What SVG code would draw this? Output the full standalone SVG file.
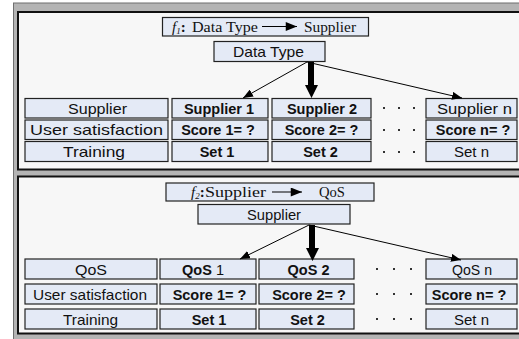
<svg xmlns="http://www.w3.org/2000/svg" width="519" height="339" viewBox="0 0 519 339">
<defs>
<marker id="ah" viewBox="0 0 10 8" refX="10" refY="4" markerWidth="10" markerHeight="8" markerUnits="userSpaceOnUse" orient="auto">
<path d="M0,0 L10,4 L0,8 Z" fill="#000"/>
</marker>
<marker id="ahs" viewBox="0 0 10 8" refX="10" refY="4" markerWidth="12" markerHeight="9" markerUnits="userSpaceOnUse" orient="auto">
<path d="M0,0 L10,4 L0,8 Z" fill="#000"/>
</marker>
</defs>
<style>
.bx{fill:#e4eaf6;stroke:#222;stroke-width:1.2}
.t{font-family:"Liberation Sans",Arial,sans-serif;font-size:15px;fill:#111}
.b{font-family:"Liberation Sans",Arial,sans-serif;font-size:14.5px;font-weight:bold;fill:#111;text-anchor:middle}
.s{font-family:"Liberation Serif","Times New Roman",serif;font-size:15px;fill:#111}
.dot{fill:#333}
.ln{stroke:#000;stroke-width:1;fill:none}
</style>
<rect x="13.5" y="3" width="520" height="340" fill="#b4b4b4" stroke="#6f6f6f" stroke-width="1"/>
<rect x="18" y="12" width="520" height="157.5" fill="#f7f7f7" stroke="#111" stroke-width="2"/>
<rect x="18" y="176.5" width="520" height="157" fill="#f7f7f7" stroke="#111" stroke-width="2"/>

<g id="f1">
<rect class="bx" x="162.5" y="17.5" width="206" height="18.5"/>
<text class="s" x="172" y="31.5"><tspan font-style="italic">f</tspan><tspan font-style="italic" font-size="9px" dy="2">1</tspan><tspan dy="-2" font-weight="bold">:</tspan></text>
<text class="s" x="192" y="31.5" textLength="66" lengthAdjust="spacingAndGlyphs">Data Type</text>
<text class="s" x="304" y="31.5" textLength="52" lengthAdjust="spacingAndGlyphs">Supplier</text>
</g>
<g id="dataType">
<rect class="bx" x="214" y="41.5" width="111" height="20"/>
<text class="t" x="233" y="56.5" textLength="71" lengthAdjust="spacingAndGlyphs">Data Type</text>
</g>

<g id="top-labels">
<rect class="bx" x="25" y="98.5" width="143" height="19.5"/>
<text class="t" x="68" y="113.5" textLength="59" lengthAdjust="spacingAndGlyphs">Supplier</text>
<rect class="bx" x="25" y="120" width="143" height="19.5"/>
<text class="t" x="30" y="135" textLength="133" lengthAdjust="spacingAndGlyphs">User satisfaction</text>
<rect class="bx" x="25" y="141.5" width="143" height="20"/>
<text class="t" x="63" y="157" textLength="62" lengthAdjust="spacingAndGlyphs">Training</text>
</g>
<g id="top-col1">
<rect class="bx" x="172" y="98.5" width="96" height="19.5"/>
<text class="b" x="219" y="113.5">Supplier 1</text>
<rect class="bx" x="172" y="120" width="96" height="19.5"/>
<text class="b" x="218" y="135">Score 1= ?</text>
<rect class="bx" x="172" y="141.5" width="96" height="20"/>
<text class="b" x="217" y="157">Set 1</text>
</g>
<g id="top-col2">
<rect class="bx" x="272" y="98.5" width="99" height="19.5"/>
<text class="b" x="322" y="113.5">Supplier 2</text>
<rect class="bx" x="272" y="120" width="99" height="19.5"/>
<text class="b" x="321.5" y="135">Score 2= ?</text>
<rect class="bx" x="272" y="141.5" width="99" height="20"/>
<text class="b" x="320.5" y="157">Set 2</text>
</g>
<g id="top-dots">
<rect class="dot" x="383" y="107" width="2" height="2"/><rect class="dot" x="398" y="107" width="2" height="2"/><rect class="dot" x="413" y="107" width="2" height="2"/>
<rect class="dot" x="383" y="129" width="2" height="2"/><rect class="dot" x="398" y="129" width="2" height="2"/><rect class="dot" x="413" y="129" width="2" height="2"/>
<rect class="dot" x="383" y="151" width="2" height="2"/><rect class="dot" x="398" y="151" width="2" height="2"/><rect class="dot" x="413" y="151" width="2" height="2"/>
</g>
<g id="top-coln">
<rect class="bx" x="426" y="98.5" width="91" height="19.5"/>
<text class="t" x="437" y="113.5" textLength="75" lengthAdjust="spacingAndGlyphs">Supplier n</text>
<rect class="bx" x="426" y="120" width="91" height="19.5"/>
<text class="b" x="473" y="135">Score n= ?</text>
<rect class="bx" x="426" y="141.5" width="91" height="20"/>
<text class="t" x="454" y="157" textLength="35" lengthAdjust="spacingAndGlyphs">Set n</text>
</g>

<g id="f2">
<rect class="bx" x="166" y="183" width="208" height="18"/>
<text class="s" x="191" y="196.5"><tspan font-style="italic">f</tspan><tspan font-style="italic" font-size="9px" dy="2">2</tspan><tspan dy="-2" font-weight="bold">:</tspan></text>
<text class="s" x="205" y="196.5" textLength="61" lengthAdjust="spacingAndGlyphs">Supplier</text>
<text class="s" x="319" y="196.5" textLength="26" lengthAdjust="spacingAndGlyphs">QoS</text>
</g>
<g id="supplier">
<rect class="bx" x="198" y="204.5" width="152" height="19.5"/>
<text class="t" x="247" y="219.5" textLength="54" lengthAdjust="spacingAndGlyphs">Supplier</text>
</g>

<g id="bot-labels">
<rect class="bx" x="25" y="259" width="132" height="20"/>
<text class="t" x="75" y="274.5" textLength="32" lengthAdjust="spacingAndGlyphs">QoS</text>
<rect class="bx" x="25" y="284" width="132" height="20"/>
<text class="t" x="33" y="299.5" textLength="114" lengthAdjust="spacingAndGlyphs">User satisfaction</text>
<rect class="bx" x="25" y="309" width="132" height="20"/>
<text class="t" x="63" y="324.5" textLength="55" lengthAdjust="spacingAndGlyphs">Training</text>
</g>
<g id="bot-col1">
<rect class="bx" x="160" y="259" width="96" height="20"/>
<text class="b" x="203" y="274.5">QoS <tspan font-weight="normal">1</tspan></text>
<rect class="bx" x="160" y="284" width="96" height="20"/>
<text class="b" x="209.5" y="299.5">Score 1= ?</text>
<rect class="bx" x="160" y="309" width="96" height="20"/>
<text class="b" x="209" y="324.5">Set 1</text>
</g>
<g id="bot-col2">
<rect class="bx" x="259" y="259" width="95" height="20"/>
<text class="b" x="308.5" y="274.5">QoS 2</text>
<rect class="bx" x="259" y="284" width="95" height="20"/>
<text class="b" x="309" y="299.5">Score 2= ?</text>
<rect class="bx" x="259" y="309" width="95" height="20"/>
<text class="b" x="307.5" y="324.5">Set 2</text>
</g>
<g id="bot-dots">
<rect class="dot" x="376" y="268" width="2" height="2"/><rect class="dot" x="393" y="268" width="2" height="2"/><rect class="dot" x="410" y="268" width="2" height="2"/>
<rect class="dot" x="376" y="293" width="2" height="2"/><rect class="dot" x="393" y="293" width="2" height="2"/><rect class="dot" x="410" y="293" width="2" height="2"/>
<rect class="dot" x="376" y="318" width="2" height="2"/><rect class="dot" x="393" y="318" width="2" height="2"/><rect class="dot" x="410" y="318" width="2" height="2"/>
</g>
<g id="bot-coln">
<rect class="bx" x="426" y="259" width="91" height="20"/>
<text class="t" x="452" y="274.5" textLength="40" lengthAdjust="spacingAndGlyphs">QoS n</text>
<rect class="bx" x="426" y="284" width="91" height="20"/>
<text class="b" x="469" y="299.5">Score n= ?</text>
<rect class="bx" x="426" y="309" width="91" height="20"/>
<text class="t" x="454" y="324.5" textLength="35" lengthAdjust="spacingAndGlyphs">Set n</text>
</g>

<g id="connectors">
<line class="ln" x1="262" y1="26.5" x2="297" y2="26.5" marker-end="url(#ahs)"/>
<line class="ln" x1="272" y1="192" x2="302" y2="192" marker-end="url(#ahs)"/>
<line class="ln" x1="307" y1="62" x2="243" y2="98" marker-end="url(#ah)"/>
<line class="ln" x1="307" y1="62" x2="462" y2="98" marker-end="url(#ah)"/>
<path d="M308,62 L314,62 L314,85 L318,85 L311.5,98 L305,85 L308,85 Z" fill="#000"/>
<line class="ln" x1="309" y1="225" x2="240" y2="259" marker-end="url(#ah)"/>
<line class="ln" x1="309" y1="225" x2="461" y2="260" marker-end="url(#ah)"/>
<path d="M309,225 L315,225 L315,248 L319,248 L312.5,261 L306,248 L309,248 Z" fill="#000"/>
</g>
</svg>
